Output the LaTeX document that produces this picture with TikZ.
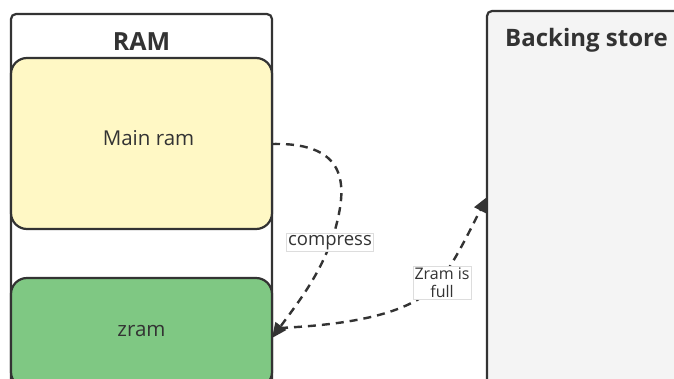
\documentclass[tikz,border=0pt]{standalone}
\usepackage{fontspec}
\setmainfont{Open Sans}
\usetikzlibrary{arrows.meta}
\definecolor{ink}{HTML}{333333}
\definecolor{ramyellow}{HTML}{FFF8C5}
\definecolor{zramgreen}{HTML}{7FC883}
\definecolor{storegray}{HTML}{F4F4F4}
\definecolor{tagline}{HTML}{DDDDDD}
\begin{document}
\begin{tikzpicture}[x=1pt,y=-1pt,
  frame/.style={draw=ink,line width=2.2pt},
  block/.style={frame,rounded corners=16pt},
  flow/.style={draw=ink,line width=2.4pt,dash pattern=on 8pt off 6pt,
    -{Triangle[length=15pt,width=13pt]}},
  tag/.style={fill=white,draw=tagline,line width=0.7pt,text=ink,inner sep=1.5pt,
    font=\fontsize{18.5}{20}\selectfont}]
\useasboundingbox (0,0) rectangle (674,378);
% RAM container and backing store
\path[frame,fill=white,rounded corners=5pt] (11,14) -- (272,14) -- (272,420) -- (11,420) -- cycle;
\node[text=ink,font=\fontsize{25}{28}\selectfont\bfseries] (ram) at (141.5,42) {RAM};
\path[frame,fill=storegray,rounded corners=5pt] (487,11) -- (700,11) -- (700,420) -- (487,420) -- cycle;
\node[text=ink,font=\fontsize{24}{27}\selectfont\bfseries,anchor=west,inner sep=0pt] (store) at (505,40.5) {Backing store};
\coordinate (storein) at (487,197);
% memory regions
\path[block,fill=ramyellow] (11,58) rectangle (272,229);
\node[text=ink,font=\fontsize{20.5}{24}\selectfont] (main) at (148.5,138) {Main ram};
\coordinate (mainout) at (272,144);
\path[block,fill=zramgreen] (11,278) rectangle (272,388);
\node[text=ink,font=\fontsize{20.5}{24}\selectfont] (zram) at (141.5,331) {zram};
\coordinate (zramin) at (272,338);
\coordinate (zramout) at (280,328);
% connectors
\draw[flow] (mainout) .. controls (352,142) and (346,190) .. (335,230)
  .. controls (322,272) and (300,300) .. (zramin);
\draw[flow] (zramout) .. controls (360,324) and (410,312) .. (437,285)
  .. controls (455,262) and (470,230) .. (storein);
\node[tag] (lcompress) at (330,242.5) {compress};
\node[tag,align=center,font=\fontsize{16}{18}\selectfont] (lfull) at (442,283) {Zram is\\full};
\end{tikzpicture}
\end{document}
